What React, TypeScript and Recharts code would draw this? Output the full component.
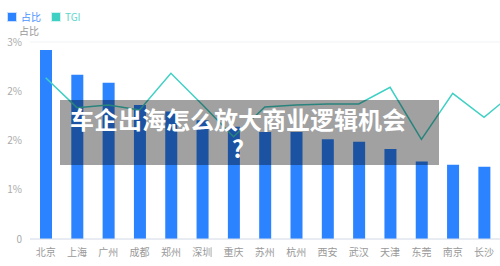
import React from 'react';
import {
  ComposedChart,
  Bar,
  Line,
  XAxis,
  YAxis,
  CartesianGrid,
} from 'recharts';

const cities = [
  '北京', '上海', '广州', '成都', '郑州', '深圳', '重庆', '苏州',
  '杭州', '西安', '武汉', '天津', '东莞', '南京', '长沙', '青岛',
];
// 占比 (%)
const shareValues = [
  2.88, 2.5, 2.38, 2.04, 1.94, 1.81, 1.71, 1.63,
  1.63, 1.52, 1.48, 1.37, 1.18, 1.13, 1.1, 1.05,
];
const tgiValues = [
  122.8, 100, 102, 98.2, 126.2, 102.4, 77.9, 100.5,
  102, 102.8, 102.8, 115.5, 75.9, 110.9, 92.7, 112.3,
];
const shareTicks = [0, 0.75, 1.5, 2.25, 3];
// last city sits past the right edge of the crop, its label is not shown
const visibleCities = cities.slice(0, 15);

const data = cities.map((city, i) => ({
  city,
  share: shareValues[i],
  tgi: tgiValues[i],
}));

const BLUE = '#2b83ff';
const TEAL = '#3fd0c4';
const FONT = '"Noto Sans CJK SC", "Noto Sans", sans-serif';

const LegendBox = () => {
  const items = [
    { label: '占比', color: BLUE },
    { label: 'TGI', color: TEAL },
  ];
  return (
    <div
      style={{
        position: 'absolute',
        left: 8,
        top: 10,
        display: 'flex',
        alignItems: 'center',
        fontFamily: FONT,
        fontSize: 10,
        lineHeight: '14px',
      }}
    >
      {items.map((it) => (
        <div key={it.label} style={{ display: 'flex', alignItems: 'center', marginRight: 11 }}>
          <span
            style={{
              display: 'inline-block',
              width: 6,
              height: 6,
              background: it.color,
              border: `1px solid ${it.color}80`,
              boxShadow: `0 0 0 1px ${it.color}40`,
              marginRight: 5,
            }}
          />
          <span style={{ color: it.color, opacity: 0.85 }}>{it.label}</span>
        </div>
      ))}
    </div>
  );
};

export default function App() {
  return (
    <div
      style={{
        position: 'absolute',
        left: 0,
        top: 0,
        width: 500,
        height: 266,
        overflow: 'hidden',
        background: '#fff',
        fontFamily: FONT,
      }}
    >
      <ComposedChart
        width={560}
        height={266}
        data={data}
        margin={{ top: 42, right: 29, bottom: 0, left: 0 }}
      >
        <CartesianGrid vertical={false} stroke="#f1f3f6" />
        <XAxis
          dataKey="city"
          interval={0}
          ticks={visibleCities}
          height={27}
          tickLine={false}
          tickMargin={4}
          axisLine={{ stroke: '#d8dfea' }}
          tick={{ fill: '#999', fontSize: 10, fontFamily: FONT }}
        />
        <YAxis
          yAxisId="share"
          width={30}
          domain={[0, 3]}
          ticks={shareTicks}
          axisLine={false}
          tickLine={false}
          tick={{ fill: '#aaa', fontSize: 10, fontFamily: FONT }}
          tickFormatter={(v: number) => (v === 0 ? '0' : `${Math.round(v)}%`)}
        />
        <YAxis yAxisId="tgi" orientation="right" domain={[0, 150]} hide />
        <Bar
          yAxisId="share"
          dataKey="share"
          fill={BLUE}
          barSize={12}
          isAnimationActive={false}
        />
        <Line
          yAxisId="tgi"
          dataKey="tgi"
          type="linear"
          stroke={TEAL}
          strokeWidth={1.5}
          dot={false}
          activeDot={false}
          isAnimationActive={false}
        />
      </ComposedChart>
      <LegendBox />
      {/* y-axis name */}
      <div
        style={{
          position: 'absolute',
          left: 19,
          top: 24,
          width: 20,
          textAlign: 'right',
          color: '#999',
          fontSize: 10,
          lineHeight: '14px',
          fontFamily: FONT,
        }}
      >
        占比
      </div>
      <div
        style={{
          position: 'absolute',
          left: 60,
          top: 100,
          width: 379,
          height: 65,
          background: 'rgba(0,0,0,0.37)',
        }}
      />
      <div
        style={{
          position: 'absolute',
          left: 60,
          top: 104,
          width: 356,
          textAlign: 'center',
          color: '#fff',
          fontWeight: 700,
          fontSize: 24,
          lineHeight: '29px',
          fontFamily: FONT,
        }}
      >
        车企出海怎么放大商业逻辑机会
        <br />?
      </div>
    </div>
  );
}
